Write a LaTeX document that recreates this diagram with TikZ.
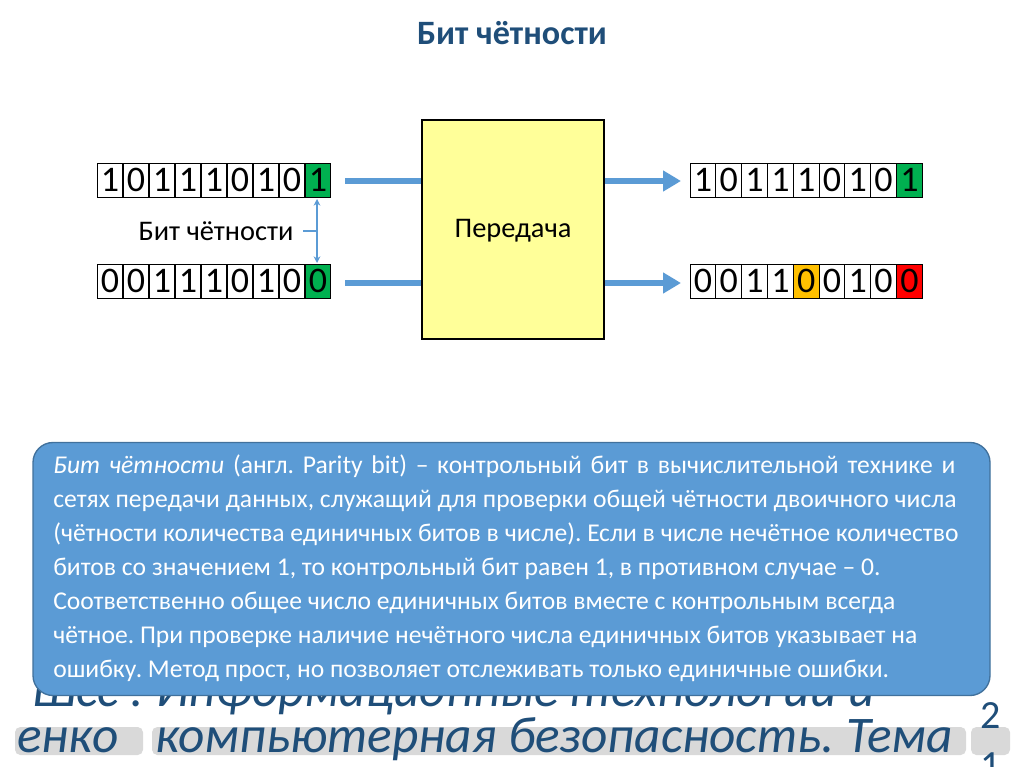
\documentclass[tikz,border=0pt]{standalone}
\usepackage{fontspec}
\setmainfont{Carlito}
\usetikzlibrary{arrows.meta}
\frenchspacing
\definecolor{titleblue}{HTML}{1F4E79}
\definecolor{accent}{HTML}{5B9BD5}
\definecolor{accentdark}{HTML}{41719C}
\definecolor{boxyellow}{HTML}{FFFF99}
\definecolor{bitgreen}{HTML}{00B050}
\definecolor{bityellow}{HTML}{FFC000}
\definecolor{bitred}{HTML}{FF0000}
\definecolor{footgray}{HTML}{D9D9D9}
\begin{document}
\begin{tikzpicture}[x=0.75pt,y=-0.75pt,
  bitcell/.style={draw=black, line width=0.75pt, minimum width=19.4pt, minimum height=25.5pt,
    inner sep=0pt, font=\fontsize{27}{27}\selectfont},
  flow/.style={draw=accent, line width=4.5pt},
  flowarrow/.style={flow, -{Triangle[length=13.5pt,width=15pt]}},
  thinarrow/.style={draw=accent, line width=0.9pt, {Stealth[length=5pt,width=5pt]}-{Stealth[length=5pt,width=5pt]}},
  txbox/.style={draw=black, line width=0.9pt, fill=boxyellow, inner sep=0pt},
  lbl/.style={font=\fontsize{21.3}{21.3}\selectfont, inner sep=0pt},
  infobox/.style={draw=accentdark, line width=1pt, fill=accent, rounded corners=15pt, inner sep=0pt},
  infoline/.style={anchor=base west, inner sep=0pt, text=white, font=\fontsize{19.2}{19.2}\selectfont},
  foot/.style={anchor=base west, inner sep=0pt, text=titleblue, font=\fontsize{38.5}{38.5}\selectfont\itshape},
  footbg/.style={fill=footgray, rounded corners=4pt}
]
\useasboundingbox (0,0) rectangle (1024,767);
\clip (0,0) rectangle (1024,767);
\fill[white] (0,0) rectangle (1024,767);

% title
\node[inner sep=0pt, text=titleblue, font=\fontsize{25.6}{25.6}\selectfont\bfseries] (title) at (512,33) {Бит чётности};

% transmission box
\node[txbox, minimum width=136.5pt, minimum height=164.25pt] (tx) at (513,229.5) {};
\node[lbl] (txlabel) at (513,231) {Передача};

% bit rows
\foreach \b/\c [count=\i] in {1/white,0/white,1/white,1/white,1/white,0/white,1/white,0/white,1/bitgreen}
  \node[bitcell, fill=\c] (LA\i) at ({110+26*(\i-1)},180) {\b};
\foreach \b/\c [count=\i] in {0/white,0/white,1/white,1/white,1/white,0/white,1/white,0/white,0/bitgreen}
  \node[bitcell, fill=\c] (LB\i) at ({110+26*(\i-1)},281) {\b};
\foreach \b/\c [count=\i] in {1/white,0/white,1/white,1/white,1/white,0/white,1/white,0/white,1/bitgreen}
  \node[bitcell, fill=\c] (RA\i) at ({703+25.8*(\i-1)},180) {\b};
\foreach \b/\c [count=\i] in {0/white,0/white,1/white,1/white,0/bityellow,0/white,1/white,0/white,0/bitred}
  \node[bitcell, fill=\c] (RB\i) at ({703+25.8*(\i-1)},281) {\b};

% flow arrows
\coordinate (ina) at (345,181);
\coordinate (inb) at (345,283);
\draw[flow] (ina) -- (tx.west |- ina);
\draw[flow] (inb) -- (tx.west |- inb);
\coordinate (outa) at (681,181);
\coordinate (outb) at (681,283);
\draw[flowarrow] (tx.east |- outa) -- (outa);
\draw[flowarrow] (tx.east |- outb) -- (outb);

% parity bit label
\node[lbl] (plabel) at (216,231) {Бит чётности};
\coordinate (pa) at (317,199);
\coordinate (pb) at (317,263);
\draw[thinarrow] (pa) -- (pb);
\coordinate (ptick) at (317,231);
\draw[draw=accent, line width=0.9pt] (303,231) -- (ptick);

% footer (partially hidden)
\node[foot] (foothidden) at (32,706) {Шсс : Информационные технологии и};
\fill[footbg] (15,727) rectangle (143,755);
\fill[footbg] (152,727) rectangle (966,755);
\fill[footbg] (971,727) rectangle (1010,755);
\node[foot] (footA) at (17,752) {енко};
\node[foot] (footB) at (155,752) {компьютерная безопасность. Тема};
\node[anchor=base, inner sep=0pt, text=titleblue, font=\fontsize{30}{30}\selectfont] (footn1) at (991,728) {2};
\node[anchor=base, inner sep=0pt, text=titleblue, font=\fontsize{30}{30}\selectfont] (footn2) at (991,778) {1};

% info box
\node[infobox, minimum width=717.75pt, minimum height=189.75pt] (info) at (511.5,569) {};
\node[infoline] (l1) at (53,473) {\makebox[676.5pt][s]{\textit{Бит чётности} (англ. Parity bit) – контрольный бит в вычислительной технике и}};
\node[infoline] (l2) at (53,507) {сетях передачи данных, служащий для проверки общей чётности двоичного числа};
\node[infoline] (l3) at (53,541) {(чётности количества единичных битов в числе). Если в числе нечётное количество};
\node[infoline] (l4) at (53,575) {битов со значением 1, то контрольный бит равен 1, в противном случае – 0.};
\node[infoline] (l5) at (53,609) {Соответственно общее число единичных битов вместе с контрольным всегда};
\node[infoline] (l6) at (53,643) {чётное. При проверке наличие нечётного числа единичных битов указывает на};
\node[infoline] (l7) at (53,677) {ошибку. Метод прост, но позволяет отслеживать только единичные ошибки.};
\end{tikzpicture}
\end{document}
